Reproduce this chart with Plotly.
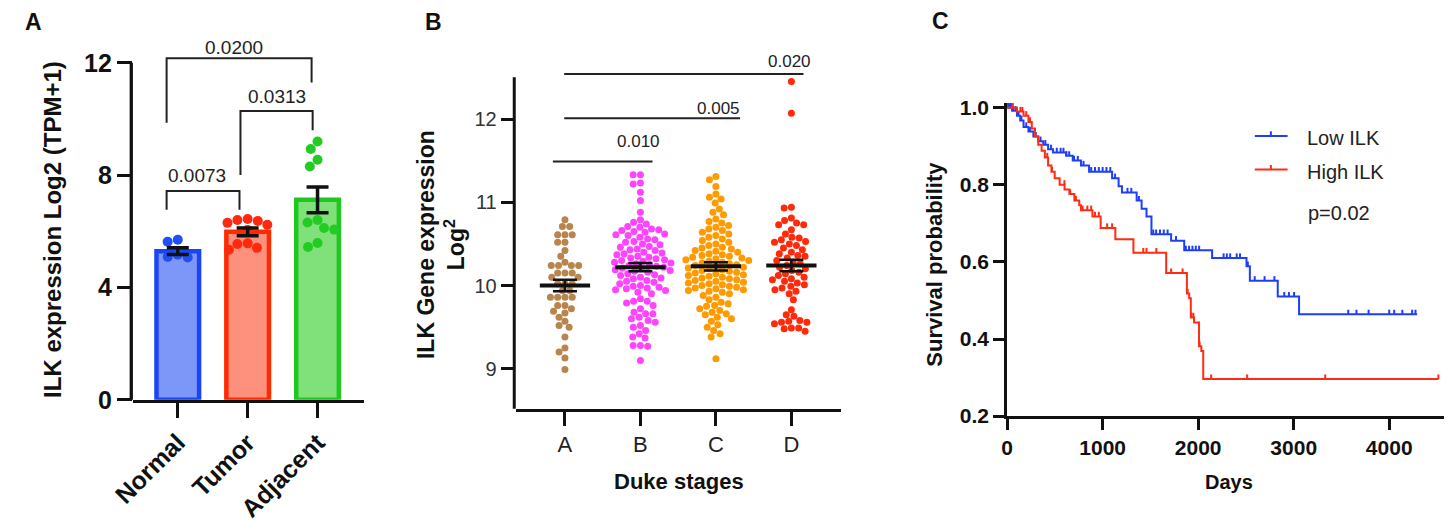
import math
import plotly.graph_objects as go

W, H = 1448, 530
FONT = "Liberation Sans, Arial, Helvetica, sans-serif"

# ---------------- Panel A data ----------------
a_groups = ["Normal", "Tumor", "Adjacent"]
a_mean = [5.29, 5.98, 7.12]
a_sem = [0.12, 0.14, 0.46]
a_normal = [5.70, 5.63, 5.17, 5.09, 5.07]
a_tumor = [6.44, 6.40, 6.37, 6.30, 6.23, 6.05, 5.57, 5.55, 5.41, 5.34]
a_adjacent = [9.20, 8.93, 8.55, 8.31, 6.40, 6.31, 6.12, 6.06, 5.58, 5.44]
a_pvals = ["0.0073", "0.0313", "0.0200"]
a_br_left = [-0.16, 0.897, -0.16]
a_br_right = [0.883, 1.93, 1.915]
a_br_top = [7.43, 10.28, 12.16]
a_br_left_end = [6.77, 8.0, 9.86]
a_br_right_end = [6.77, 9.6, 11.3]
a_yticks = [0, 4, 8, 12]

# ---------------- Panel B data ----------------
b_stages = ["A", "B", "C", "D"]
b_A = [10.79, 10.71, 10.71, 10.61, 10.61, 10.61, 10.52, 10.52, 10.42, 10.35,
       10.28, 10.24, 10.24, 10.24, 10.24, 10.15, 10.15, 10.15, 10.10, 10.10,
       10.02, 10.02, 10.02, 9.94, 9.94, 9.86, 9.86, 9.86, 9.86, 9.76, 9.76,
       9.72, 9.69, 9.67, 9.62, 9.57, 9.52, 9.50, 9.38, 9.25, 9.20, 9.13, 8.99]
b_B = [11.33, 11.33, 11.23, 11.22, 11.12, 11.02, 10.88, 10.79, 10.76, 10.74,
       10.71, 10.70, 10.68, 10.67, 10.66, 10.65, 10.64, 10.62, 10.61, 10.60,
       10.58, 10.56, 10.55, 10.53, 10.52, 10.50, 10.49, 10.47, 10.46, 10.44,
       10.43, 10.42, 10.40, 10.39, 10.38, 10.37, 10.35, 10.34, 10.33, 10.32,
       10.31, 10.30, 10.29, 10.28, 10.27, 10.26, 10.25, 10.24, 10.23, 10.22,
       10.21, 10.20, 10.19, 10.18, 10.17, 10.16, 10.14, 10.13, 10.12, 10.10,
       10.09, 10.08, 10.06, 10.05, 10.04, 10.02, 10.00, 9.99, 9.98, 9.97,
       9.96, 9.95, 9.94, 9.92, 9.90,
       9.84, 9.81, 9.81, 9.79, 9.76, 9.72, 9.68, 9.66, 9.66, 9.62, 9.60, 9.58,
       9.56, 9.52, 9.50, 9.46, 9.42, 9.38, 9.37, 9.28, 9.28, 9.27, 9.10]
b_C = [11.31, 11.27, 11.19, 11.10, 11.06, 11.04, 10.99, 10.92, 10.88, 10.85,
       10.80, 10.77, 10.75,
       10.72, 10.70, 10.68, 10.66, 10.64, 10.62, 10.60, 10.58, 10.56, 10.54,
       10.52, 10.50, 10.48, 10.46, 10.45, 10.44, 10.42, 10.41, 10.40, 10.38,
       10.37, 10.36, 10.35, 10.34, 10.33, 10.32, 10.31, 10.30, 10.29, 10.28,
       10.27, 10.26, 10.25, 10.24, 10.23, 10.22, 10.21, 10.20, 10.19, 10.18,
       10.17, 10.16, 10.15, 10.14, 10.13, 10.12, 10.11, 10.10, 10.09, 10.08,
       10.07, 10.06, 10.05, 10.04, 10.03, 10.02, 10.01, 10.00, 9.99, 9.98,
       9.97, 9.96, 9.95, 9.94, 9.93, 9.92, 9.90, 9.88, 9.86, 9.83,
       9.80, 9.78, 9.76, 9.75, 9.72, 9.70, 9.68, 9.66, 9.65, 9.62, 9.60, 9.57,
       9.53, 9.50, 9.46, 9.42, 9.38, 9.12]
b_D = [12.45, 12.07, 10.94, 10.93, 10.81, 10.78, 10.75, 10.73, 10.73, 10.67,
       10.62, 10.58, 10.57, 10.55, 10.53, 10.52, 10.50, 10.48, 10.45, 10.43,
       10.40, 10.38, 10.36, 10.35, 10.33, 10.30, 10.28, 10.26, 10.24, 10.22,
       10.20, 10.18, 10.16, 10.14, 10.12, 10.10, 10.08, 10.07, 10.05, 10.03,
       10.01, 9.99, 9.97, 9.95, 9.93, 9.90, 9.83, 9.71, 9.65, 9.63, 9.58, 9.57,
       9.56, 9.56, 9.54, 9.49, 9.49, 9.48, 9.45]
b_mean = [10.00, 10.22, 10.23, 10.24]
b_sem = [0.07, 0.05, 0.05, 0.07]
b_pvals = ["0.010", "0.005", "0.020"]
b_sig_x0 = [-0.16, -0.01, -0.01]
b_sig_x1 = [1.16, 2.32, 3.16]
b_sig_y = [11.49, 12.01, 12.54]
b_yticks = [9, 10, 11, 12]

# ---------------- Panel C data ----------------
low_t = [0, 52, 103, 137, 172, 223, 275, 326, 378, 429, 481, 618, 687, 773, 858,
         1099, 1167, 1202, 1356, 1408, 1459, 1511, 1717, 1854, 2146, 2506, 2541,
         2833, 3056]
low_s = [1.0, 0.992, 0.979, 0.967, 0.95, 0.938, 0.925, 0.913, 0.904, 0.892, 0.884,
         0.875, 0.863, 0.85, 0.834, 0.817, 0.796, 0.78, 0.759, 0.738, 0.718, 0.672,
         0.655, 0.63, 0.61, 0.589, 0.551, 0.51, 0.464]
low_end = 4292
low_cens = [10, 25, 40, 65, 90, 120, 150, 200, 240, 300, 350, 400, 460, 520, 560,
            590, 620, 650, 700, 740, 800, 880, 920, 960, 1000, 1040, 1080, 1130,
            1260, 1300, 1380, 1530, 1560, 1600, 1640, 1680, 1768, 1871, 1905, 1940,
            1975, 2010, 2266, 2300, 2335, 2403, 2438, 2520, 2592, 2695, 2798, 2901,
            2950, 3004, 3571, 3657, 3784, 4000, 4052, 4137, 4240, 4275]
high_t = [0, 103, 172, 223, 258, 292, 326, 361, 395, 429, 464, 498, 550, 601, 652,
          704, 755, 773, 893, 979, 1133, 1322, 1665, 1882, 1906, 1923, 1957, 2009,
          2033, 2053]
high_s = [1.0, 0.99, 0.979, 0.963, 0.946, 0.925, 0.904, 0.888, 0.871, 0.85, 0.834,
          0.817, 0.80, 0.788, 0.776, 0.759, 0.747, 0.734, 0.718, 0.688, 0.659, 0.624,
          0.571, 0.518, 0.506, 0.456, 0.443, 0.381, 0.369, 0.296]
high_end = 4515
high_cens = [60, 140, 160, 200, 240, 420, 470, 600, 660, 720, 790, 840, 880, 920,
             960, 1047, 1099, 1425, 1459, 1562, 1717, 1837, 1890, 1930, 1950, 2015,
             2136, 2513, 3330, 4515]
c_xticks = [0, 1000, 2000, 3000, 4000]
c_yticks = [0.2, 0.4, 0.6, 0.8, 1.0]


def swarm(values, d_px, ypx, xpx):
    """Beeswarm x offsets (category units) so dots of diameter d_px don't overlap."""
    order = sorted(range(len(values)), key=lambda i: -values[i])
    placed = []
    xs = [0.0] * len(values)
    for i in order:
        y = values[i] * ypx
        ints = []
        for (px_, py_) in placed:
            dy = abs(py_ - y)
            if dy < d_px:
                dx = math.sqrt(d_px ** 2 - dy ** 2)
                ints.append((px_ - dx, px_ + dx))
        cands = [0.0] + [a for a, b in ints] + [b for a, b in ints]
        cands.sort(key=lambda c: (abs(c), c))
        x = 0.0
        for c in cands:
            if all(not (a + 1e-6 < c < b - 1e-6) for a, b in ints):
                x = c
                break
        placed.append((x, y))
        xs[i] = x / xpx
    return xs


def surv_at(t, ts, ss):
    s = ss[0]
    for ti, si in zip(ts, ss):
        if ti <= t:
            s = si
    return s


fig = go.Figure()

# ---------- Panel A ----------
a_fill = ["#7d97f9", "#fd917e", "#80e17b"]
a_edge = ["#1b45f4", "#ff2a00", "#1fc81f"]
a_dot = ["#1f4ff6", "#ff2a0e", "#22cc22"]
fig.add_trace(go.Bar(x=[0, 1, 2], y=a_mean, width=0.61, xaxis="x", yaxis="y",
                     marker=dict(color=a_fill, line=dict(color=a_edge, width=4.5)),
                     showlegend=False, hoverinfo="skip"))
for gi, vals in enumerate([a_normal, a_tumor, a_adjacent]):
    offs = swarm(vals, 10.5, 29.25, 71.0)
    fig.add_trace(go.Scatter(x=[gi + o for o in offs], y=vals, mode="markers",
                             xaxis="x", yaxis="y", showlegend=False,
                             marker=dict(size=10, color=a_dot[gi])))
fig.add_trace(go.Scatter(x=[0, 1, 2], y=a_mean, mode="markers", xaxis="x", yaxis="y",
                         marker=dict(size=1, color="rgba(0,0,0,0)"), showlegend=False,
                         error_y=dict(type="data", array=a_sem, color="#111",
                                      thickness=3.5, width=11)))
bx, by = [], []
for l, r, t, le, re in zip(a_br_left, a_br_right, a_br_top, a_br_left_end, a_br_right_end):
    bx += [l, l, r, r, None]
    by += [le, t, t, re, None]
fig.add_trace(go.Scatter(x=bx, y=by, mode="lines", xaxis="x", yaxis="y",
                         line=dict(color="#222", width=2), showlegend=False))

# ---------- Panel B ----------
b_col = ["#b8854e", "#ff44ff", "#ff9a00", "#ff2a0a"]
for gi, vals in enumerate([b_A, b_B, b_C, b_D]):
    offs = swarm(vals, 7.4, 86.7, 76.7)
    fig.add_trace(go.Scatter(x=[gi + o for o in offs], y=vals, mode="markers",
                             xaxis="x2", yaxis="y2", showlegend=False,
                             marker=dict(size=7, color=b_col[gi])))
mx, my = [], []
for gi, m in enumerate(b_mean):
    mx += [gi - 0.333, gi + 0.333, None]
    my += [m, m, None]
fig.add_trace(go.Scatter(x=mx, y=my, mode="lines", xaxis="x2", yaxis="y2",
                         line=dict(color="#111", width=4), showlegend=False))
fig.add_trace(go.Scatter(x=[0, 1, 2, 3], y=b_mean, mode="markers", xaxis="x2", yaxis="y2",
                         marker=dict(size=1, color="rgba(0,0,0,0)"), showlegend=False,
                         error_y=dict(type="data", array=b_sem, color="#111",
                                      thickness=2.5, width=12)))
sx, sy = [], []
for x0, x1, yv in zip(b_sig_x0, b_sig_x1, b_sig_y):
    sx += [x0, x1, None]
    sy += [yv, yv, None]
fig.add_trace(go.Scatter(x=sx, y=sy, mode="lines", xaxis="x2", yaxis="y2",
                         line=dict(color="#222", width=2), showlegend=False))

# ---------- Panel C ----------
for ts, ss, tend, cens, col in [(low_t, low_s, low_end, low_cens, "#1f3ff6"),
                                 (high_t, high_s, high_end, high_cens, "#ff2b12")]:
    fig.add_trace(go.Scatter(x=ts + [tend], y=ss + [ss[-1]], mode="lines",
                             line=dict(color=col, width=2, shape="hv"),
                             xaxis="x3", yaxis="y3", showlegend=False))
    cx, cy = [], []
    for t in cens:
        s = surv_at(t, ts, ss)
        cx += [t, t, None]
        cy += [s, s + 0.012, None]
    fig.add_trace(go.Scatter(x=cx, y=cy, mode="lines", line=dict(color=col, width=2),
                             xaxis="x3", yaxis="y3", showlegend=False))


def px(x):
    return x / W


def py(y):
    return 1 - y / H


bold = dict(family=FONT, color="#111", weight="bold")
axis_common = dict(showgrid=False, zeroline=False, ticks="outside", linecolor="#111",
                   tickcolor="#111")

layout = dict(
    width=W, height=H, margin=dict(l=0, r=0, t=0, b=0),
    paper_bgcolor="white", plot_bgcolor="white", showlegend=False,
    xaxis=dict(axis_common, domain=[px(111.7), px(347)], range=[-0.642, 2.672],
               tickvals=[0, 1, 2], ticktext=a_groups, tickangle=-45,
               showline=True, linewidth=3.3, ticklen=15, tickwidth=3.3,
               tickfont=dict(bold, size=25), anchor="y"),
    yaxis=dict(axis_common, domain=[py(409), py(30)], range=[0, 12.96],
               tickvals=a_yticks, showline=False, ticklen=15, tickwidth=3.3,
               tickfont=dict(bold, size=25), anchor="x"),
    xaxis2=dict(axis_common, domain=[px(500.7), px(831.7)], range=[-0.652, 3.664],
                tickvals=[0, 1, 2, 3], ticktext=b_stages, showline=True, linewidth=3,
                ticklen=14, tickwidth=3,
                tickfont=dict(family=FONT, color="#222", size=22), anchor="y2"),
    yaxis2=dict(axis_common, domain=[py(418.3), py(38)], range=[8.52, 12.907],
                tickvals=b_yticks, showline=False, ticklen=14, tickwidth=3,
                tickfont=dict(family=FONT, color="#333", size=20), anchor="x2"),
    xaxis3=dict(axis_common, domain=[px(1000), px(1444)], range=[0, 4574],
                tickvals=c_xticks, showline=True, linewidth=3, ticklen=11, tickwidth=3,
                tickfont=dict(bold, size=21), anchor="y3"),
    yaxis3=dict(axis_common, domain=[py(426), py(100)], range=[0.2, 1.012],
                tickvals=c_yticks, tickformat=".1f", showline=True, linewidth=3,
                ticklen=11, tickwidth=3, tickfont=dict(bold, size=21), anchor="x3"),
)

shapes = [
    dict(type="line", xref="x domain", yref="y", xsizemode="pixel", xanchor=0,
         x0=-1.65, x1=-1.65, y0=-0.11, y1=12, line=dict(color="#111", width=3.3)),
    dict(type="line", xref="x2 domain", yref="y2", xsizemode="pixel", xanchor=0,
         x0=-1.5, x1=-1.5, y0=8.485, y1=12.5, line=dict(color="#111", width=3)),
    dict(type="line", xref="paper", yref="paper", x0=px(1251.7), x1=px(1285),
         y0=py(134.3), y1=py(134.3), line=dict(color="#1f3ff6", width=2)),
    dict(type="line", xref="paper", yref="paper", x0=px(1268), x1=px(1268),
         y0=py(134.3), y1=py(129.5), line=dict(color="#1f3ff6", width=2)),
    dict(type="line", xref="paper", yref="paper", x0=px(1251.7), x1=px(1285),
         y0=py(169.3), y1=py(169.3), line=dict(color="#ff2b12", width=2)),
    dict(type="line", xref="paper", yref="paper", x0=px(1268), x1=px(1268),
         y0=py(169.3), y1=py(164.5), line=dict(color="#ff2b12", width=2)),
]

ann = []
for txt, xc, yc in zip(a_pvals, [0.28, 1.42, 0.80], [7.98, 10.81, 12.56]):
    ann.append(dict(text=txt, x=xc, y=yc, xref="x", yref="y", showarrow=False,
                    xanchor="center", yanchor="middle",
                    font=dict(family=FONT, size=19, color="#222")))
for txt, xc, yc in zip(b_pvals, [0.98, 2.03, 2.97], [11.73, 12.13, 12.69]):
    ann.append(dict(text=txt, x=xc, y=yc, xref="x2", yref="y2", showarrow=False,
                    xanchor="center", yanchor="middle",
                    font=dict(family=FONT, size=17, color="#222")))


def pann(text, x, y, size, angle=0, weight="bold", anchor="center", color="#111"):
    ann.append(dict(text=text, x=px(x), y=py(y), xref="paper", yref="paper",
                    showarrow=False, xanchor=anchor, yanchor="middle", textangle=angle,
                    font=dict(family=FONT, size=size, color=color, weight=weight)))


pann("A", 11, 16, 23)
pann("B", 417, 16, 23)
pann("C", 932, 15, 23)
pann("ILK expression Log2 (TPM+1)", 30, 231.6, 24, angle=-90)
pann("ILK Gene expression<br>Log<sup>2</sup>", 425, 247.6, 23, angle=-90)
pann("Duke stages", 666.7, 493.6, 22)
pann("Survival probability", 926, 268, 22, angle=-90)
pann("Days", 1225, 494.3, 20)
pann("Low ILK", 1303, 136.7, 20, weight="normal", anchor="left", color="#222")
pann("High ILK", 1303, 171.7, 20, weight="normal", anchor="left", color="#222")
pann("p=0.02", 1337.5, 214, 20, weight="normal", color="#222")

fig.update_layout(**layout, shapes=shapes, annotations=ann)
fig.write_html("out.html", config={"displayModeBar": False},
               post_script="document.body.style.margin='0px';document.body.style.overflow='hidden';")
